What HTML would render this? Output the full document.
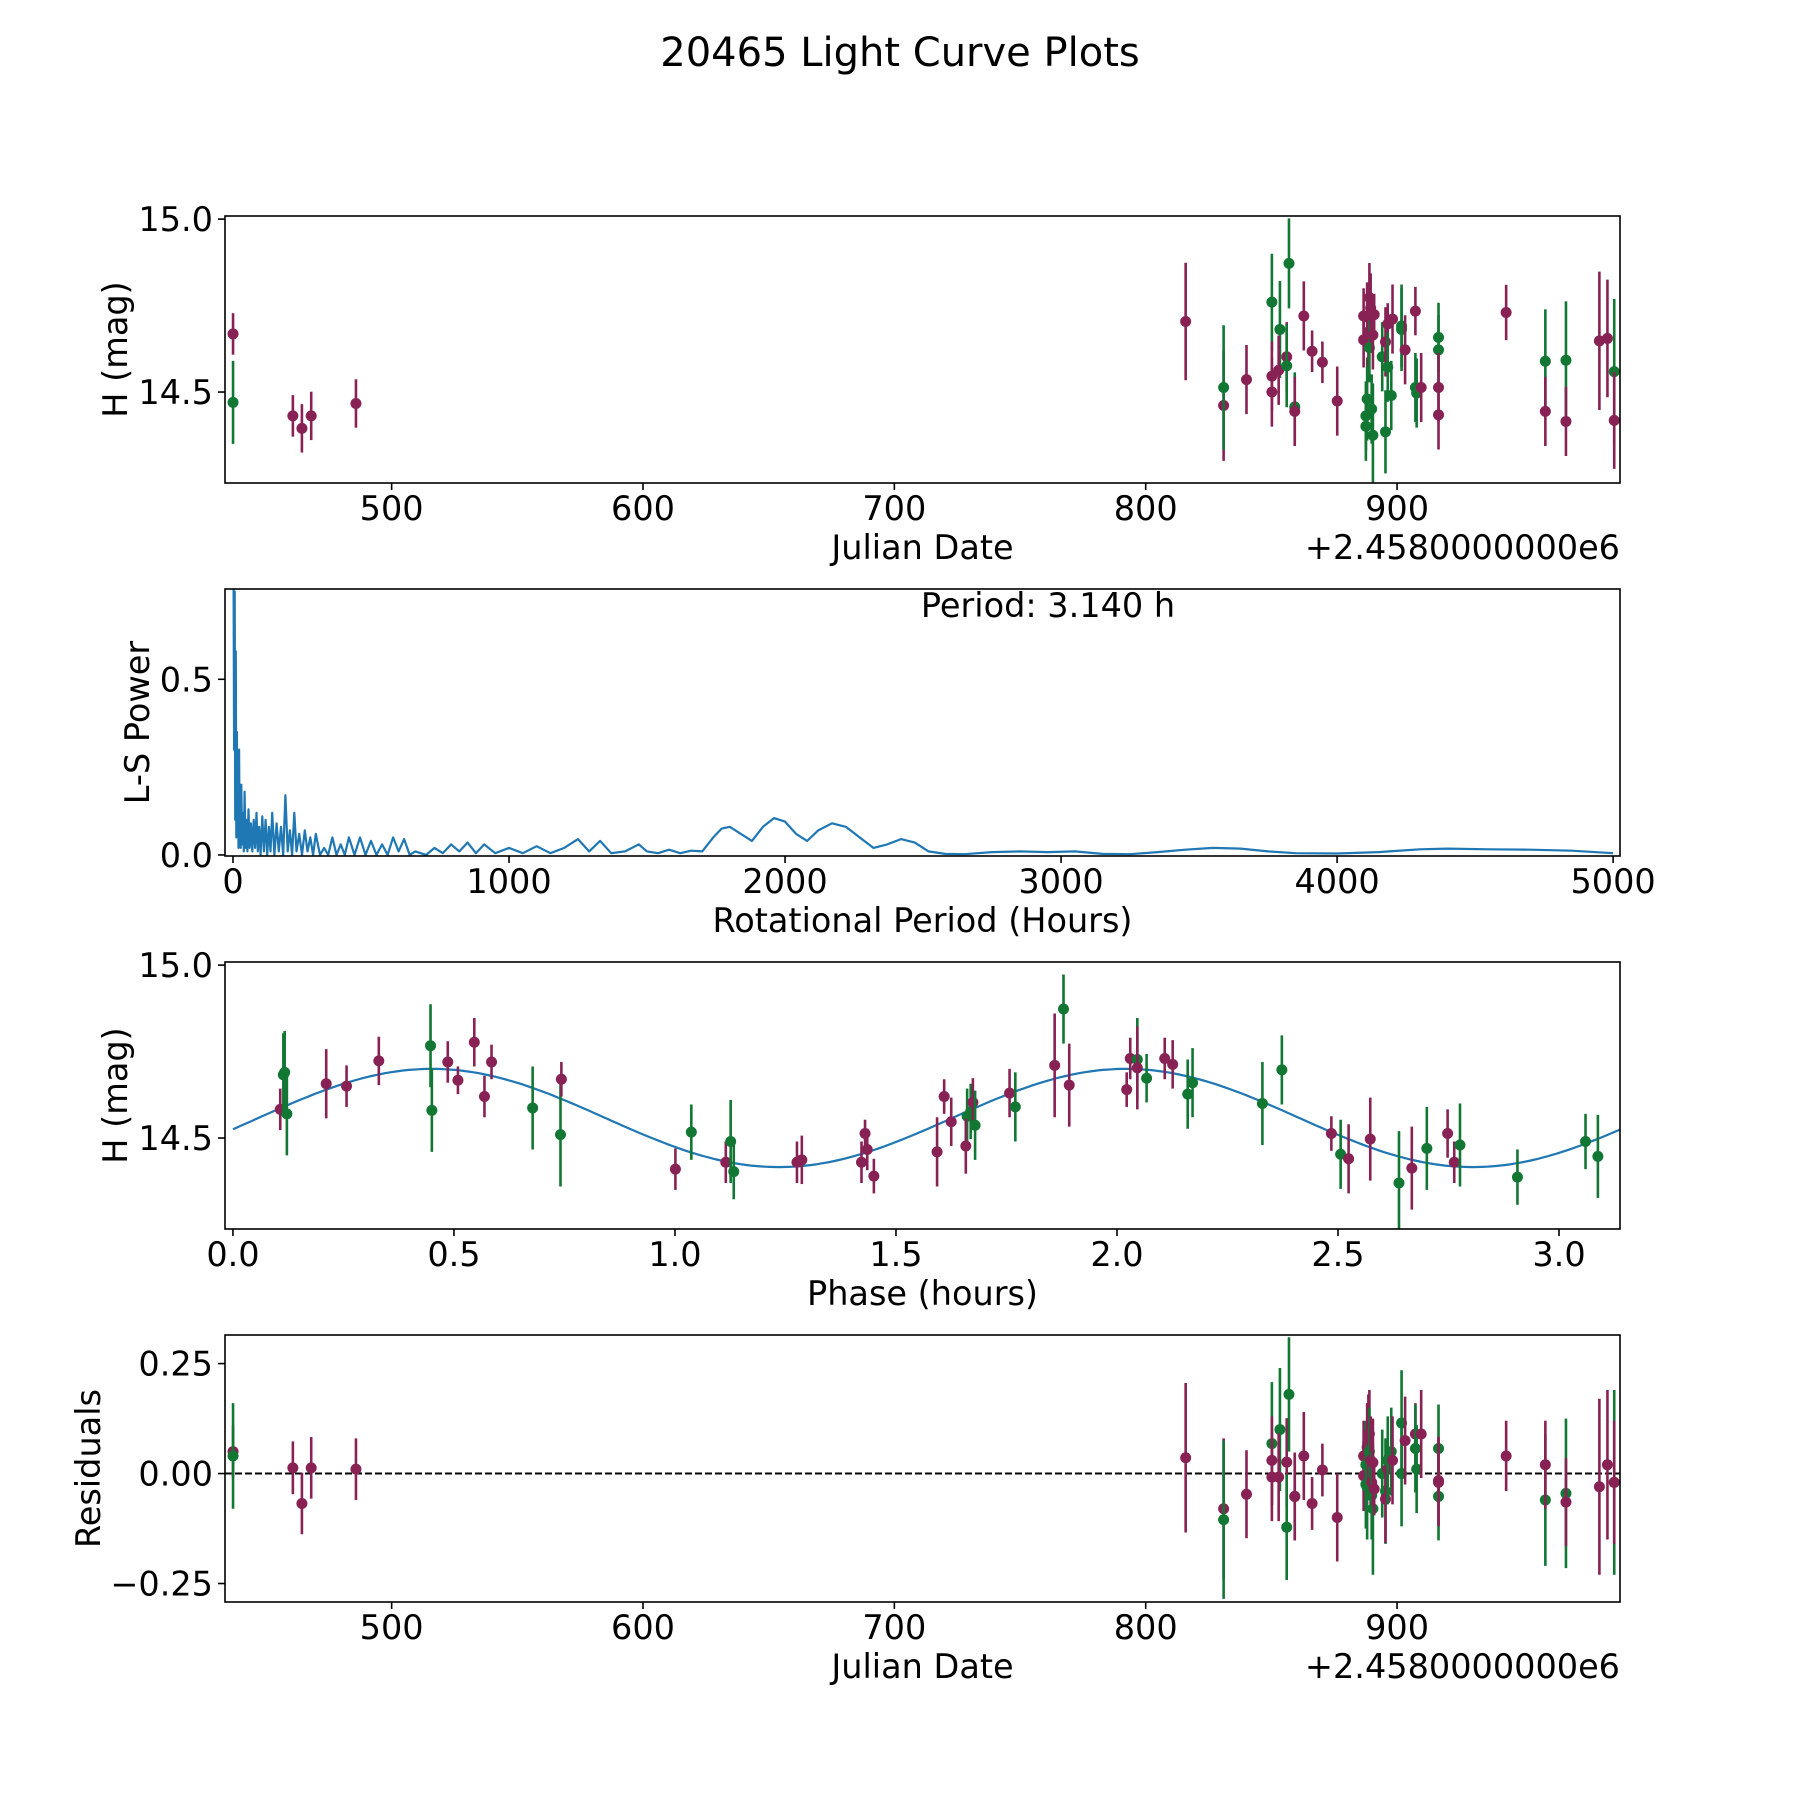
<!DOCTYPE html>
<html><head><meta charset="utf-8"><title>20465 Light Curve Plots</title>
<style>html,body{margin:0;padding:0;background:#fff}svg{display:block;font-family:"DejaVu Sans","Liberation Sans",sans-serif}</style>
</head><body>
<svg id="fig" width="1800" height="1800" viewBox="0 0 1800 1800" xmlns="http://www.w3.org/2000/svg">
<rect width="1800" height="1800" fill="#fff"/>
<text x="900" y="66" font-size="40" text-anchor="middle">20465 Light Curve Plots</text>
</svg>
<script>
// ---- Light curve data (JD offset, H mag, error, band 0=purple 1=green, residual)
const jdVals=[436.9,436.9,460.7,464.3,468.0,485.8,815.9,831.0,831.0,840.1,850.2,850.2,850.2,853.4,852.9,856.1,856.1,857.0,859.3,859.3,862.9,866.2,870.3,876.2,886.7,886.7,887.6,887.6,888.1,888.1,888.6,889.0,889.0,889.5,889.9,889.9,890.4,890.4,890.9,894.1,895.4,895.4,896.3,896.3,897.7,898.2,901.8,901.8,903.2,907.3,907.3,907.8,909.6,916.5,916.5,916.5,916.5,943.4,959.0,959.0,967.2,967.2,980.5,983.7,986.4,986.4];
const magVals=[14.668,14.470,14.431,14.395,14.431,14.467,14.704,14.461,14.513,14.536,14.760,14.546,14.500,14.681,14.563,14.602,14.576,14.872,14.457,14.444,14.720,14.618,14.586,14.474,14.720,14.651,14.431,14.401,14.717,14.480,14.674,14.773,14.628,14.743,14.720,14.451,14.375,14.665,14.724,14.602,14.385,14.645,14.697,14.572,14.490,14.711,14.691,14.681,14.622,14.734,14.513,14.497,14.513,14.658,14.622,14.513,14.434,14.730,14.589,14.444,14.592,14.415,14.648,14.655,14.559,14.418];
const errVals=[0.06,0.12,0.06,0.07,0.07,0.07,0.17,0.16,0.18,0.10,0.14,0.10,0.10,0.14,0.10,0.10,0.12,0.13,0.10,0.10,0.10,0.06,0.06,0.10,0.08,0.08,0.10,0.10,0.10,0.12,0.10,0.10,0.10,0.10,0.06,0.10,0.15,0.10,0.06,0.10,0.12,0.10,0.06,0.10,0.10,0.10,0.12,0.12,0.10,0.07,0.10,0.10,0.10,0.10,0.10,0.10,0.10,0.08,0.15,0.10,0.17,0.10,0.20,0.17,0.21,0.14];
const bandVals=[0,1,0,0,0,0,0,0,1,0,1,0,0,1,0,0,1,1,1,0,0,0,0,0,0,0,1,1,0,1,0,0,1,0,0,1,1,0,0,1,1,0,0,1,1,0,1,1,0,0,1,1,0,1,1,0,0,0,1,0,1,0,0,0,1,0];
const residVals=[0.05,0.04,0.013,-0.068,0.013,0.01,0.036,-0.08,-0.105,-0.047,0.068,0.03,-0.008,0.1,-0.008,0.026,-0.122,0.18,-0.052,-0.052,0.04,-0.068,0.008,-0.1,0.04,-0.005,0.02,-0.025,0.06,-0.03,0.08,0.09,0.05,0.03,-0.02,-0.05,-0.08,0.025,-0.035,0.0,-0.04,-0.058,0.01,0.03,0.05,0.03,0.115,0.0,0.075,0.09,0.057,0.01,0.09,0.057,-0.052,-0.016,-0.02,0.04,-0.06,0.02,-0.045,-0.065,-0.03,0.02,-0.02,-0.02];
// ---- Phased data
const phaseVals=[0.107,0.114,0.117,0.122,0.211,0.257,0.330,0.447,0.450,0.486,0.509,0.546,0.569,0.585,0.678,0.741,0.743,1.001,1.037,1.115,1.126,1.133,1.276,1.287,1.422,1.430,1.435,1.450,1.593,1.609,1.625,1.661,1.658,1.669,1.674,1.679,1.757,1.770,1.859,1.879,1.892,2.022,2.030,2.046,2.046,2.067,2.108,2.126,2.160,2.171,2.329,2.373,2.485,2.506,2.524,2.573,2.638,2.667,2.701,2.748,2.763,2.776,2.906,3.060,3.088];
const phaseMag=[14.583,14.683,14.690,14.570,14.657,14.650,14.723,14.767,14.580,14.720,14.667,14.777,14.620,14.720,14.587,14.510,14.670,14.410,14.517,14.430,14.490,14.403,14.430,14.437,14.430,14.513,14.467,14.390,14.460,14.620,14.547,14.563,14.477,14.577,14.603,14.537,14.630,14.590,14.710,14.873,14.653,14.640,14.730,14.727,14.703,14.673,14.730,14.713,14.627,14.660,14.600,14.697,14.513,14.453,14.440,14.497,14.370,14.413,14.470,14.513,14.430,14.480,14.387,14.490,14.447];
const phaseErr=[0.06,0.12,0.12,0.12,0.1,0.06,0.07,0.12,0.12,0.06,0.04,0.07,0.06,0.05,0.12,0.15,0.05,0.06,0.08,0.06,0.12,0.08,0.06,0.07,0.06,0.04,0.06,0.05,0.1,0.05,0.07,0.08,0.08,0.08,0.07,0.1,0.07,0.1,0.15,0.1,0.12,0.05,0.06,0.12,0.12,0.07,0.06,0.07,0.1,0.1,0.12,0.1,0.05,0.1,0.1,0.12,0.15,0.12,0.12,0.07,0.06,0.12,0.08,0.08,0.12];
const phaseBand=[0,1,1,1,0,0,0,1,1,0,0,0,0,0,1,1,0,0,1,0,1,1,0,0,0,0,0,0,0,0,0,1,0,1,0,1,0,1,0,1,0,0,0,1,0,1,0,0,1,1,1,1,0,1,0,0,1,0,1,0,0,1,1,1,1];
// ---- Periodogram
const periodVals=[2,4,6,8,10,12,14,16,18,20,22,24,26,28,30,33,36,39,42,45,48,52,56,60,65,70,75,80,85,90,95,100,106,112,118,124,130,136,142,150,158,166,174,182,190,198,206,214,222,230,240,250,260,270,280,290,300,315,330,345,360,375,390,405,420,440,460,480,500,520,540,560,580,600,620,640,660,700,
730,760,790,820,850,880,910,950,1000,1050,1100,1150,1200,1250,1290,1330,1370,1420,1470,1500,1540,1580,1620,1660,1700,1740,1770,1800,1840,1880,1920,1960,2000,2040,2080,2120,2170,2220,2270,2320,2370,2420,2470,2520,2580,2650,2750,2850,2950,3050,3150,3250,3350,3450,3550,3650,3750,3850,4000,4150,4300,4400,4550,4700,4850,5000];
const powerVals=[0.76,0.3,0.75,0.1,0.58,0.05,0.35,0.08,0.2,0.02,0.3,0.05,0.15,0.02,0.2,0.03,0.12,0.01,0.18,0.02,0.1,0.01,0.13,0.02,0.09,0.01,0.1,0.02,0.12,0.01,0.08,0.0,0.11,0.01,0.1,0.0,0.08,0.01,0.12,0.0,0.09,0.01,0.08,0.0,0.17,0.01,0.07,0.0,0.12,0.01,0.06,0.0,0.07,0.01,0.05,0.0,0.06,0.0,0.02,0.0,0.05,0.0,0.03,0.0,0.05,0.0,0.05,0.0,0.04,0.0,0.03,0.0,0.05,0.01,0.045,0.0,0.01,0.0,
0.02,0.005,0.03,0.01,0.035,0.005,0.03,0.005,0.02,0.005,0.025,0.005,0.02,0.045,0.01,0.04,0.005,0.01,0.03,0.01,0.005,0.015,0.005,0.012,0.01,0.05,0.075,0.08,0.06,0.04,0.08,0.105,0.095,0.06,0.04,0.07,0.09,0.08,0.05,0.02,0.03,0.045,0.035,0.01,0.003,0.002,0.008,0.01,0.008,0.01,0.003,0.002,0.008,0.015,0.02,0.018,0.01,0.005,0.004,0.008,0.016,0.018,0.016,0.015,0.012,0.005];
// ---- Fit model parameters
const fitMean=14.558, fitAmp=0.142, fitPeriod=1.57, fitT0=0.0575;
const jdTicks=[500,600,700,800,900];
const magTicks=[14.5,15.0];
const periodTicks=[0,1000,2000,3000,4000,5000];
const powerTicks=[0.0,0.5];
const phaseTicks=[0.0,0.5,1.0,1.5,2.0,2.5,3.0];
const residTicks=[-0.25,0.0,0.25];

const NS='http://www.w3.org/2000/svg';
const svg=document.getElementById('fig');
const COL=['#882255','#117733'];
const FS=33.5;
function mk(tag,attrs,parent){const e=document.createElementNS(NS,tag);for(const k in attrs)e.setAttribute(k,attrs[k]);(parent||svg).appendChild(e);return e;}
const L=225,R=1620,H=267;
const rows=[216,589,962,1335];
function axes(i,xmin,xmax,ymin,ymax,name){
  const top=rows[i],bot=top+H;
  const g=mk('g',{});
  
  
  const sx=v=>L+(v-xmin)/(xmax-xmin)*(R-L);
  const sy=v=>bot-(v-ymin)/(ymax-ymin)*H;
  const cid='clip'+i;
  const cp=mk('clipPath',{id:cid},g);mk('rect',{x:L,y:top,width:R-L,height:H},cp);
  const plot=mk('g',{'clip-path':'url(#'+cid+')'},g);
  return {g,plot,sx,sy,top,bot};
}
function frame(a,xt,xfmt,yt,yfmt,xlabel,ylabel,ylx,offset){
  const f=mk('rect',{x:L,y:a.top,width:R-L,height:H,fill:'none',stroke:'#000','stroke-width':1.6},a.g);
  
  
  xt.forEach(v=>{const x=a.sx(v);
    mk('line',{x1:x,x2:x,y1:a.bot,y2:a.bot+7,stroke:'#000','stroke-width':1.6},a.g);
    const t=mk('text',{x:x,y:a.bot+37,'font-size':FS,'text-anchor':'middle'},a.g);t.textContent=xfmt(v);
    
    });
  yt.forEach(v=>{const y=a.sy(v);
    mk('line',{x1:L,x2:L-7,y1:y,y2:y,stroke:'#000','stroke-width':1.6},a.g);
    const t=mk('text',{x:L-12,y:y+12,'font-size':FS,'text-anchor':'end'},a.g);t.textContent=yfmt(v);
    
    });
  const xl=mk('text',{x:(L+R)/2,y:a.bot+76,'font-size':FS,'text-anchor':'middle'},a.g);xl.textContent=xlabel;
  
  
  const yc=(a.top+a.bot)/2;
  const yl=mk('text',{x:ylx,y:yc,'font-size':FS,'text-anchor':'middle',transform:'rotate(-90 '+ylx+' '+yc+')'},a.g);yl.textContent=ylabel;
  
  
  if(offset){const o=mk('text',{x:R,y:a.bot+76,'font-size':FS,'text-anchor':'end'},a.g);o.textContent=offset;
    
    }
}
function points(a,xs,ys,es,bs){
  xs.forEach((xv,i)=>{const x=a.sx(xv),y=a.sy(ys[i]);const c=COL[bs[i]];
    const pg=mk('g',{},a.plot);
    
    
    mk('line',{x1:x,x2:x,y1:a.sy(ys[i]+es[i]),y2:a.sy(ys[i]-es[i]),stroke:c,'stroke-width':2.6},pg);
    mk('circle',{cx:x,cy:y,r:5.5,fill:c},pg);});
}
const fmt1=v=>v.toFixed(1), fmt0=v=>String(v), fmt2=v=>(v<0?'\u2212':'')+Math.abs(v).toFixed(2);
const OFF='+2.4580000000e6';
// Panel 1
const a1=axes(0,433.7,988.7,14.237,15.009,'light-curve-panel');
points(a1,jdVals,magVals,errVals,bandVals);
frame(a1,jdTicks,fmt0,magTicks,fmt1,'Julian Date','H (mag)',127,OFF);
// Panel 2
const a2=axes(1,-29,5025,-0.003,0.757,'periodogram-panel');
let d='';periodVals.forEach((p,i)=>{if(i<powerVals.length)d+=(i?'L':'M')+a2.sx(p).toFixed(1)+' '+a2.sy(powerVals[i]).toFixed(1);});
const pl=mk('path',{d:d,fill:'none',stroke:'#1f77b4','stroke-width':2.2,'stroke-linejoin':'round'},a2.plot);


frame(a2,periodTicks,fmt0,powerTicks,fmt1,'Rotational Period (Hours)','L-S Power',149,null);
const pt=mk('text',{x:1048,y:617,'font-size':FS,'text-anchor':'middle'},a2.g);pt.textContent='Period: 3.140 h';


// Panel 3
const a3=axes(2,-0.018,3.138,14.237,15.009,'phase-panel');
let d3='';for(let k=0;k<=300;k++){const t=3.14*k/300;const m=fitMean+fitAmp*Math.sin(2*Math.PI*(t-fitT0)/fitPeriod);d3+=(k?'L':'M')+a3.sx(t).toFixed(1)+' '+a3.sy(m).toFixed(1);}
const fl=mk('path',{d:d3,fill:'none',stroke:'#1f77b4','stroke-width':2.2},a3.plot);


points(a3,phaseVals,phaseMag,phaseErr,phaseBand);
frame(a3,phaseTicks,fmt1,magTicks,fmt1,'Phase (hours)','H (mag)',127,null);
// Panel 4
const a4=axes(3,433.7,988.7,-0.292,0.315,'residuals-panel');
const zl=mk('line',{x1:L,x2:R,y1:a4.sy(0),y2:a4.sy(0),stroke:'#000','stroke-width':2,'stroke-dasharray':'7,3'},a4.plot);


points(a4,jdVals,residVals,errVals,bandVals);
frame(a4,jdTicks,fmt0,residTicks,fmt2,'Julian Date','Residuals',100,OFF);
</script>
</body></html>
